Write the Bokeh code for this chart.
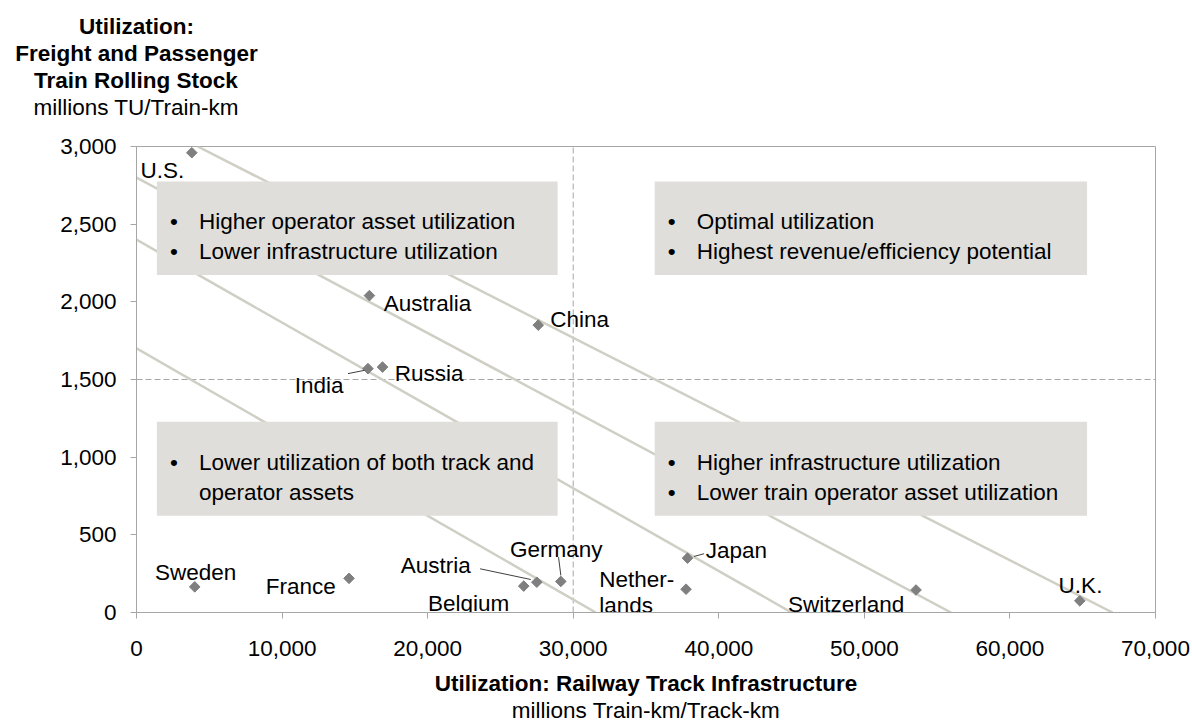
import numpy as np
from bokeh.plotting import figure
from bokeh.models import Range1d, NumeralTickFormatter, FixedTicker, ColumnDataSource, Title
from bokeh.core.properties import value
from bokeh.embed import file_html
from bokeh.resources import INLINE

# ---------------- data ----------------
countries = ["U.S.", "Australia", "China", "India", "Russia", "Sweden", "France",
             "Belgium", "Austria", "Germany", "Netherlands", "Japan", "Switzerland", "U.K."]
track_util = [3800, 16000, 27600, 15900, 16900, 4000, 14600,
              26600, 27500, 29150, 37750, 37850, 53550, 64800]
rolling_util = [2960, 2040, 1850, 1570, 1580, 165, 220,
                170, 195, 200, 150, 350, 145, 75]
label_text = ["U.S.", "Australia", "China", "India", "Russia", "Sweden", "France",
              "Belgium", "Austria", "Germany", "Nether-\nlands", "Japan", "Switzerland", "U.K."]

x_ticks = [0, 10000, 20000, 30000, 40000, 50000, 60000, 70000]
y_ticks = [0, 500, 1000, 1500, 2000, 2500, 3000]

threshold_x = 30000
threshold_y = 1500

# iso-utilization lines (start / end points)
iso_x0 = [0, 0, 0, 4200]
iso_y0 = [1700, 2400, 2800, 3000]
iso_x1 = [31550, 45000, 55950, 67050]
iso_y1 = [0, 0, 0, 0]

quadrant_text = [
    ["Higher operator asset utilization", "Lower infrastructure utilization"],
    ["Optimal utilization", "Highest revenue/efficiency potential"],
    ["Lower utilization of both track and", "operator assets"],
    ["Higher infrastructure utilization", "Lower train operator asset utilization"],
]
quadrant_bullets = [[True, True], [True, True], [True, False], [True, True]]

y_title = ["Utilization:", "Freight and Passenger", "Train Rolling Stock"]
y_unit = "millions TU/Train-km"
x_title = "Utilization: Railway Track Infrastructure"
x_unit = "millions Train-km/Track-km"

# ---------------- layout / style ----------------
FONT = "Liberation Sans"
FS = "22.5px"
LEFT, TOP, BOTTOM, RIGHT = 136, 146, 111, 35
FW, FH = 1019, 466
X0, X1, Y0, Y1 = 0, 70000, 0, 3000
PX = (X1 - X0) / FW
PY = (Y1 - Y0) / FH

# y-title lines: horizontal offset (px) of each line's left edge from the frame's left edge
y_title_offsets = [-57.5, -121.3, -102.5]
y_unit_offset = -103

# label placement: align, dx px, dy px (down positive, to baseline)
label_layout = {
    "U.S.": ("right", -7.5, 17.7),
    "Australia": ("left", 14.3, 8),
    "China": ("left", 12, -6),
    "India": ("right", -24.4, 16.7),
    "Russia": ("left", 12.3, 6.6),
    "Sweden": ("center", 1, -14.3),
    "France": ("right", -13.3, 8.3),
    "Belgium": ("right", -14.4, 17.7),
    "Austria": ("right", -66, -16.7),
    "Germany": ("center", -4.5, -31.7),
    "Netherlands": ("left", -86.7, -10),
    "Japan": ("left", 18.3, -7.7),
    "Switzerland": ("right", -11.7, 14.3),
    "U.K.": ("center", 0.7, -15.3),
}
# leader lines in px offsets from marker (start dx, dy, end dx, dy), dy down positive
leaders = {
    "India": (-20, 5, -3.4, 1.7),
    "Austria": (-56.7, -13.4, -6, -2.7),
    "Germany": (-2.3, -24.3, 0, -6),
    "Japan": (6.6, -1.7, 16.6, -4.4),
}
# quadrant boxes (data coords)
box_left = [1400, 35600, 1400, 35600]
box_right = [28930, 65300, 28930, 65300]
box_top = [2775, 2775, 1228, 1228]
box_bottom = [2172, 2172, 623, 623]

p = figure(frame_width=FW, frame_height=FH,
           min_border_left=LEFT, min_border_right=RIGHT, min_border_top=TOP, min_border_bottom=BOTTOM,
           x_range=Range1d(X0, X1), y_range=Range1d(Y0, Y1),
           output_backend="svg", toolbar_location=None)
p.background_fill_color = "white"
p.border_fill_color = "white"
p.outline_line_color = "#a6a6a6"
p.grid.visible = False

for ax in (p.xaxis[0], p.yaxis[0]):
    ax.axis_line_color = "#a6a6a6"
    ax.major_tick_line_color = "#a6a6a6"
    ax.minor_tick_line_color = None
    ax.major_tick_out = 6
    ax.major_tick_in = 0
    ax.major_label_text_font = FONT
    ax.major_label_text_font_size = FS
    ax.major_label_text_color = "black"
    ax.formatter = NumeralTickFormatter(format="0,0")
p.xaxis[0].ticker = FixedTicker(ticks=x_ticks)
p.yaxis[0].ticker = FixedTicker(ticks=y_ticks)
p.xaxis[0].major_label_standoff = 22
p.yaxis[0].major_label_standoff = 14

# threshold dashed lines
p.segment(x0=[threshold_x, X0], y0=[Y0, threshold_y], x1=[threshold_x, X1], y1=[Y1, threshold_y],
          line_color="#a6a6a6", line_width=1, line_dash="6 3")

# iso lines
p.segment(x0=iso_x0, y0=iso_y0, x1=iso_x1, y1=iso_y1, line_color="#cfcfc5", line_width=2.5)

# quadrant boxes
p.quad(left=box_left, right=box_right, top=box_top, bottom=box_bottom,
       fill_color="#dfdeda", line_color=None)

# markers
p.scatter(x=track_util, y=rolling_util, marker="square", angle=np.pi / 4, size=7.5,
          fill_color="#7f7f7f", line_color="#7f7f7f")

# leader lines
lx0, ly0, lx1, ly1 = [], [], [], []
for c, (sdx, sdy, edx, edy) in leaders.items():
    i = countries.index(c)
    lx0.append(track_util[i] + sdx * PX)
    ly0.append(rolling_util[i] - sdy * PY)
    lx1.append(track_util[i] + edx * PX)
    ly1.append(rolling_util[i] - edy * PY)
p.segment(x0=lx0, y0=ly0, x1=lx1, y1=ly1, line_color="#404040", line_width=1)

# country labels
rows = {"left": dict(x=[], y=[], t=[], dx=[], dy=[]),
        "right": dict(x=[], y=[], t=[], dx=[], dy=[]),
        "center": dict(x=[], y=[], t=[], dx=[], dy=[])}
for i, c in enumerate(countries):
    al, dx, dy = label_layout[c]
    for j, line in enumerate(label_text[i].split("\n")):
        r = rows[al]
        r["x"].append(track_util[i]); r["y"].append(rolling_util[i]); r["t"].append(line)
        r["dx"].append(dx); r["dy"].append(dy + 26.7 * j)
for al, r in rows.items():
    src = ColumnDataSource(r)
    p.text(x="x", y="y", text="t", x_offset="dx", y_offset="dy", source=src,
           text_align=al, text_baseline="alphabetic", text_font=value(FONT),
           text_font_size=FS, text_color="black")

# quadrant texts
bx, by, bt, bdy = [], [], [], []
ux, uy, udy = [], [], []
for i, lines in enumerate(quadrant_text):
    for j, line in enumerate(lines):
        bx.append(box_left[i]); by.append(box_top[i]); bt.append(line); bdy.append(40.5 + 30 * j)
        if quadrant_bullets[i][j]:
            ux.append(box_left[i]); uy.append(box_top[i]); udy.append(40.5 + 30 * j)
p.text(x=bx, y=by, text=bt, x_offset=42, y_offset=bdy, text_align="left",
       text_baseline="alphabetic", text_font=value(FONT), text_font_size=FS, text_color="black")
p.text(x=ux, y=uy, text=["\u2022"] * len(ux), x_offset=17, y_offset=udy, text_align="center",
       text_baseline="alphabetic", text_font=value(FONT), text_font_size=FS, text_color="black")

# ---- y-axis title block (stacked titles above the frame; first added is nearest) ----
p.add_layout(Title(text=" ", text_font=FONT, text_font_size=FS, standoff=0), "above")
p.add_layout(Title(text=y_unit, align="left", offset=y_unit_offset, text_font=FONT,
                   text_font_size=FS, text_font_style="normal", text_color="black", standoff=0), "above")
for t, off in reversed(list(zip(y_title, y_title_offsets))):
    p.add_layout(Title(text=t, align="left", offset=off, text_font=FONT, text_font_size=FS,
                       text_font_style="bold", text_color="black", standoff=0), "above")

# ---- x-axis title (titles below the axis; small spacer first) ----
p.add_layout(Title(text=" ", text_font=FONT, text_font_size="9px", standoff=0), "below")
p.add_layout(Title(text=x_title, align="center", vertical_align="top", text_font=FONT,
                   text_font_size=FS, text_font_style="bold", text_color="black", standoff=0), "below")
p.add_layout(Title(text=x_unit, align="center", vertical_align="top", text_font=FONT,
                   text_font_size=FS, text_font_style="normal", text_color="black", standoff=0), "below")

open("out.html", "w").write(file_html(p, INLINE))
